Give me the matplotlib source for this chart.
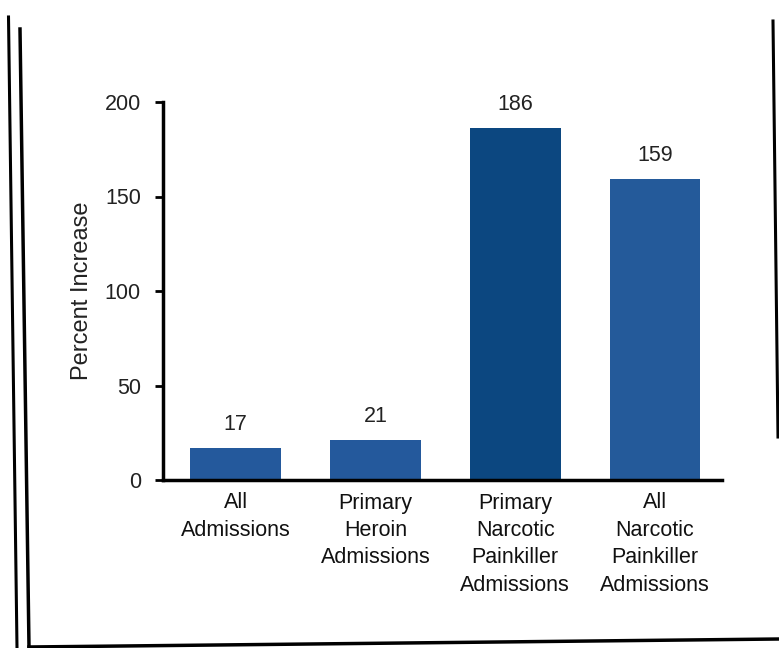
import matplotlib
matplotlib.use("Agg")
import matplotlib.pyplot as plt
from matplotlib.lines import Line2D

plt.rcParams['font.family'] = ['Liberation Sans', 'DejaVu Sans']

categories = ["All\nAdmissions",
              "Primary\nHeroin\nAdmissions",
              "Primary\nNarcotic\nPainkiller\nAdmissions",
              "All\nNarcotic\nPainkiller\nAdmissions"]
values = [17, 21, 186, 159]
bar_colors = ["#24599c", "#24599c", "#0c4780", "#245a9a"]
y_ticks = [0, 50, 100, 150, 200]

W, H = 779, 648
fig = plt.figure(figsize=(W / 100, H / 100), dpi=100)
fig.patch.set_facecolor("white")

ax = fig.add_axes([163 / W, 1 - 480 / H, (722 - 163) / W, (480 - 102) / H])
x = list(range(len(values)))
ax.bar(x, values, width=0.65, color=bar_colors, zorder=2)

for xi, v in zip(x, values):
    ax.text(xi, v + 7, str(v), ha="center", va="bottom", fontsize=15.5, color="#222222")

ax.set_xlim(-0.52, 3.48)
ax.set_ylim(0, 200)
ax.set_yticks(y_ticks)
ax.set_yticklabels([str(t) for t in y_ticks], fontsize=15.5, color="#222222")
ax.set_xticks(x)
ax.set_xticklabels(categories, fontsize=15.5, color="#111111", linespacing=1.4)
ax.tick_params(axis="x", length=0, pad=9)
ax.tick_params(axis="y", length=6, width=2, direction="out", pad=10)
ax.set_ylabel("Percent Increase", fontsize=17, color="#222222", labelpad=8)

for side in ("top", "right"):
    ax.spines[side].set_visible(False)
ax.spines["left"].set_linewidth(2.5)
ax.spines["bottom"].set_linewidth(2.5)

# Page border lines around the chart
def px_line(x0, y0, x1, y1, lw=2.5):
    fig.add_artist(Line2D([x0 / W, x1 / W], [1 - y0 / H, 1 - y1 / H],
                          transform=fig.transFigure, color="black", lw=lw))

px_line(8.5, 17, 17, 648, lw=2.2)
px_line(20, 29, 29, 647, lw=2.5)
px_line(29, 647, 779, 639, lw=2.5)
px_line(773, 21, 778, 437, lw=2.2)

fig.savefig("out.png", dpi=100, facecolor="white")
